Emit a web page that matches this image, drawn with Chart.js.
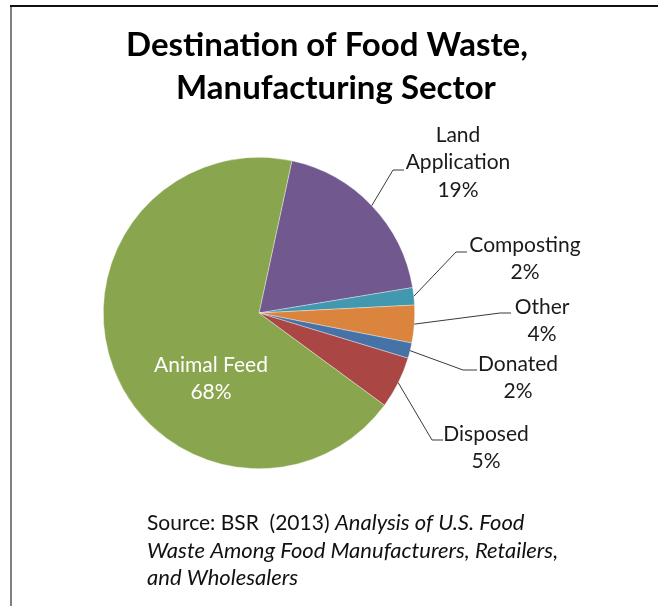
<!DOCTYPE html>
<html><head><meta charset="utf-8">
<script src="https://cdn.jsdelivr.net/npm/chart.js@4/dist/chart.umd.min.js"></script>
<style>
html,body{margin:0;padding:0;background:#fff;overflow:hidden}
#wrap{position:relative;width:658px;height:606px}
canvas{display:block}
</style></head><body>
<div id="wrap"><canvas id="c" width="658" height="606"></canvas></div>
<script>
// ---- data ----
const categories = ['Land Application', 'Composting', 'Other', 'Donated', 'Disposed', 'Animal Feed'];
const nameLines = [['Land', 'Application'], ['Composting'], ['Other'], ['Donated'], ['Disposed'], ['Animal Feed']];
const values = [19.0, 1.8, 3.9, 1.6, 5.4, 68.3];
const percentLabels = ['19%', '2%', '4%', '2%', '5%', '68%'];
const colors = ['#71588F', '#4198AF', '#DB843D', '#4572A7', '#AA4643', '#89A54E'];
const titleLines = ['Destination of Food Waste,', 'Manufacturing Sector'];

// ---- label layout (text centre, first line y, leader elbow, leader end) ----
const labelLayout = [
  {x: 458, y: 135, elbow: [393, 170], end: [404, 170]},
  {x: 525, y: 245, elbow: [456, 252], end: [467, 252]},
  {x: 542, y: 307, elbow: [500, 313], end: [511, 313]},
  {x: 518, y: 364, elbow: [463, 370], end: [477, 370]},
  {x: 486, y: 434, elbow: [432, 440], end: [443, 440]},
  {x: 211, y: 365, inside: true}
];
const FONT = 'Lato, "Open Sans", sans-serif';
const lineH = 27.5;

const decor = {
  id: 'decor',
  beforeDraw(chart) {
    const ctx = chart.ctx;
    ctx.save();
    ctx.fillStyle = '#fff';
    ctx.fillRect(0, 0, chart.width, chart.height);
    // frame
    ctx.fillStyle = '#808080';
    ctx.fillRect(10, 6, 2, chart.height - 6);
    ctx.fillStyle = '#111';
    ctx.fillRect(10, 5, chart.width - 10, 2);
    // title
    ctx.fillStyle = '#000';
    ctx.textAlign = 'center';
    ctx.textBaseline = 'middle';
    ctx.font = 'bold 33px ' + FONT;
    ctx.fillText(titleLines[0], 327, 45);
    ctx.fillText(titleLines[1], 336, 88);
    ctx.restore();
  },
  afterDraw(chart) {
    const ctx = chart.ctx;
    const meta = chart.getDatasetMeta(0);
    ctx.save();
    ctx.textAlign = 'center';
    ctx.textBaseline = 'middle';
    ctx.font = '21px ' + FONT;
    meta.data.forEach((arc, i) => {
      const L = labelLayout[i];
      const lines = nameLines[i].concat([percentLabels[i]]);
      if (!L.inside) {
        const mid = (arc.startAngle + arc.endAngle) / 2;
        const r = arc.outerRadius;
        const sx = arc.x + Math.cos(mid) * r;
        const sy = arc.y + Math.sin(mid) * r;
        ctx.strokeStyle = '#3a3a3a';
        ctx.lineWidth = 1;
        ctx.beginPath();
        ctx.moveTo(sx, sy);
        ctx.lineTo(L.elbow[0], L.elbow[1]);
        ctx.lineTo(L.end[0], L.end[1]);
        ctx.stroke();
        ctx.fillStyle = '#1a1a1a';
      } else {
        ctx.fillStyle = '#ffffff';
      }
      lines.forEach((t, k) => ctx.fillText(t, L.x, L.y + k * lineH));
    });
    // source note
    ctx.textAlign = 'left';
    ctx.fillStyle = '#111';
    let x = 147;
    ctx.font = '21px ' + FONT;
    const s1 = 'Source: BSR  (2013) ';
    ctx.fillText(s1, x, 523);
    x += ctx.measureText(s1).width;
    ctx.font = 'italic 22px ' + FONT;
    ctx.fillText('Analysis of U.S. Food', x, 523);
    ctx.fillText('Waste Among Food Manufacturers, Retailers,', 147, 551);
    ctx.fillText('and Wholesalers', 147, 578);
    ctx.restore();
  }
};

new Chart(document.getElementById('c'), {
  type: 'pie',
  data: {
    labels: categories,
    datasets: [{
      data: values,
      backgroundColor: colors,
      borderColor: 'rgba(255,255,255,0.6)',
      borderWidth: 0.6
    }]
  },
  options: {
    responsive: false,
    animation: false,
    rotation: 12.2,
    layout: {padding: {left: 103, right: 243, top: 157, bottom: 137}},
    plugins: {legend: {display: false}, tooltip: {enabled: false}, title: {display: false}}
  },
  plugins: [decor]
});
</script>
</body></html>
